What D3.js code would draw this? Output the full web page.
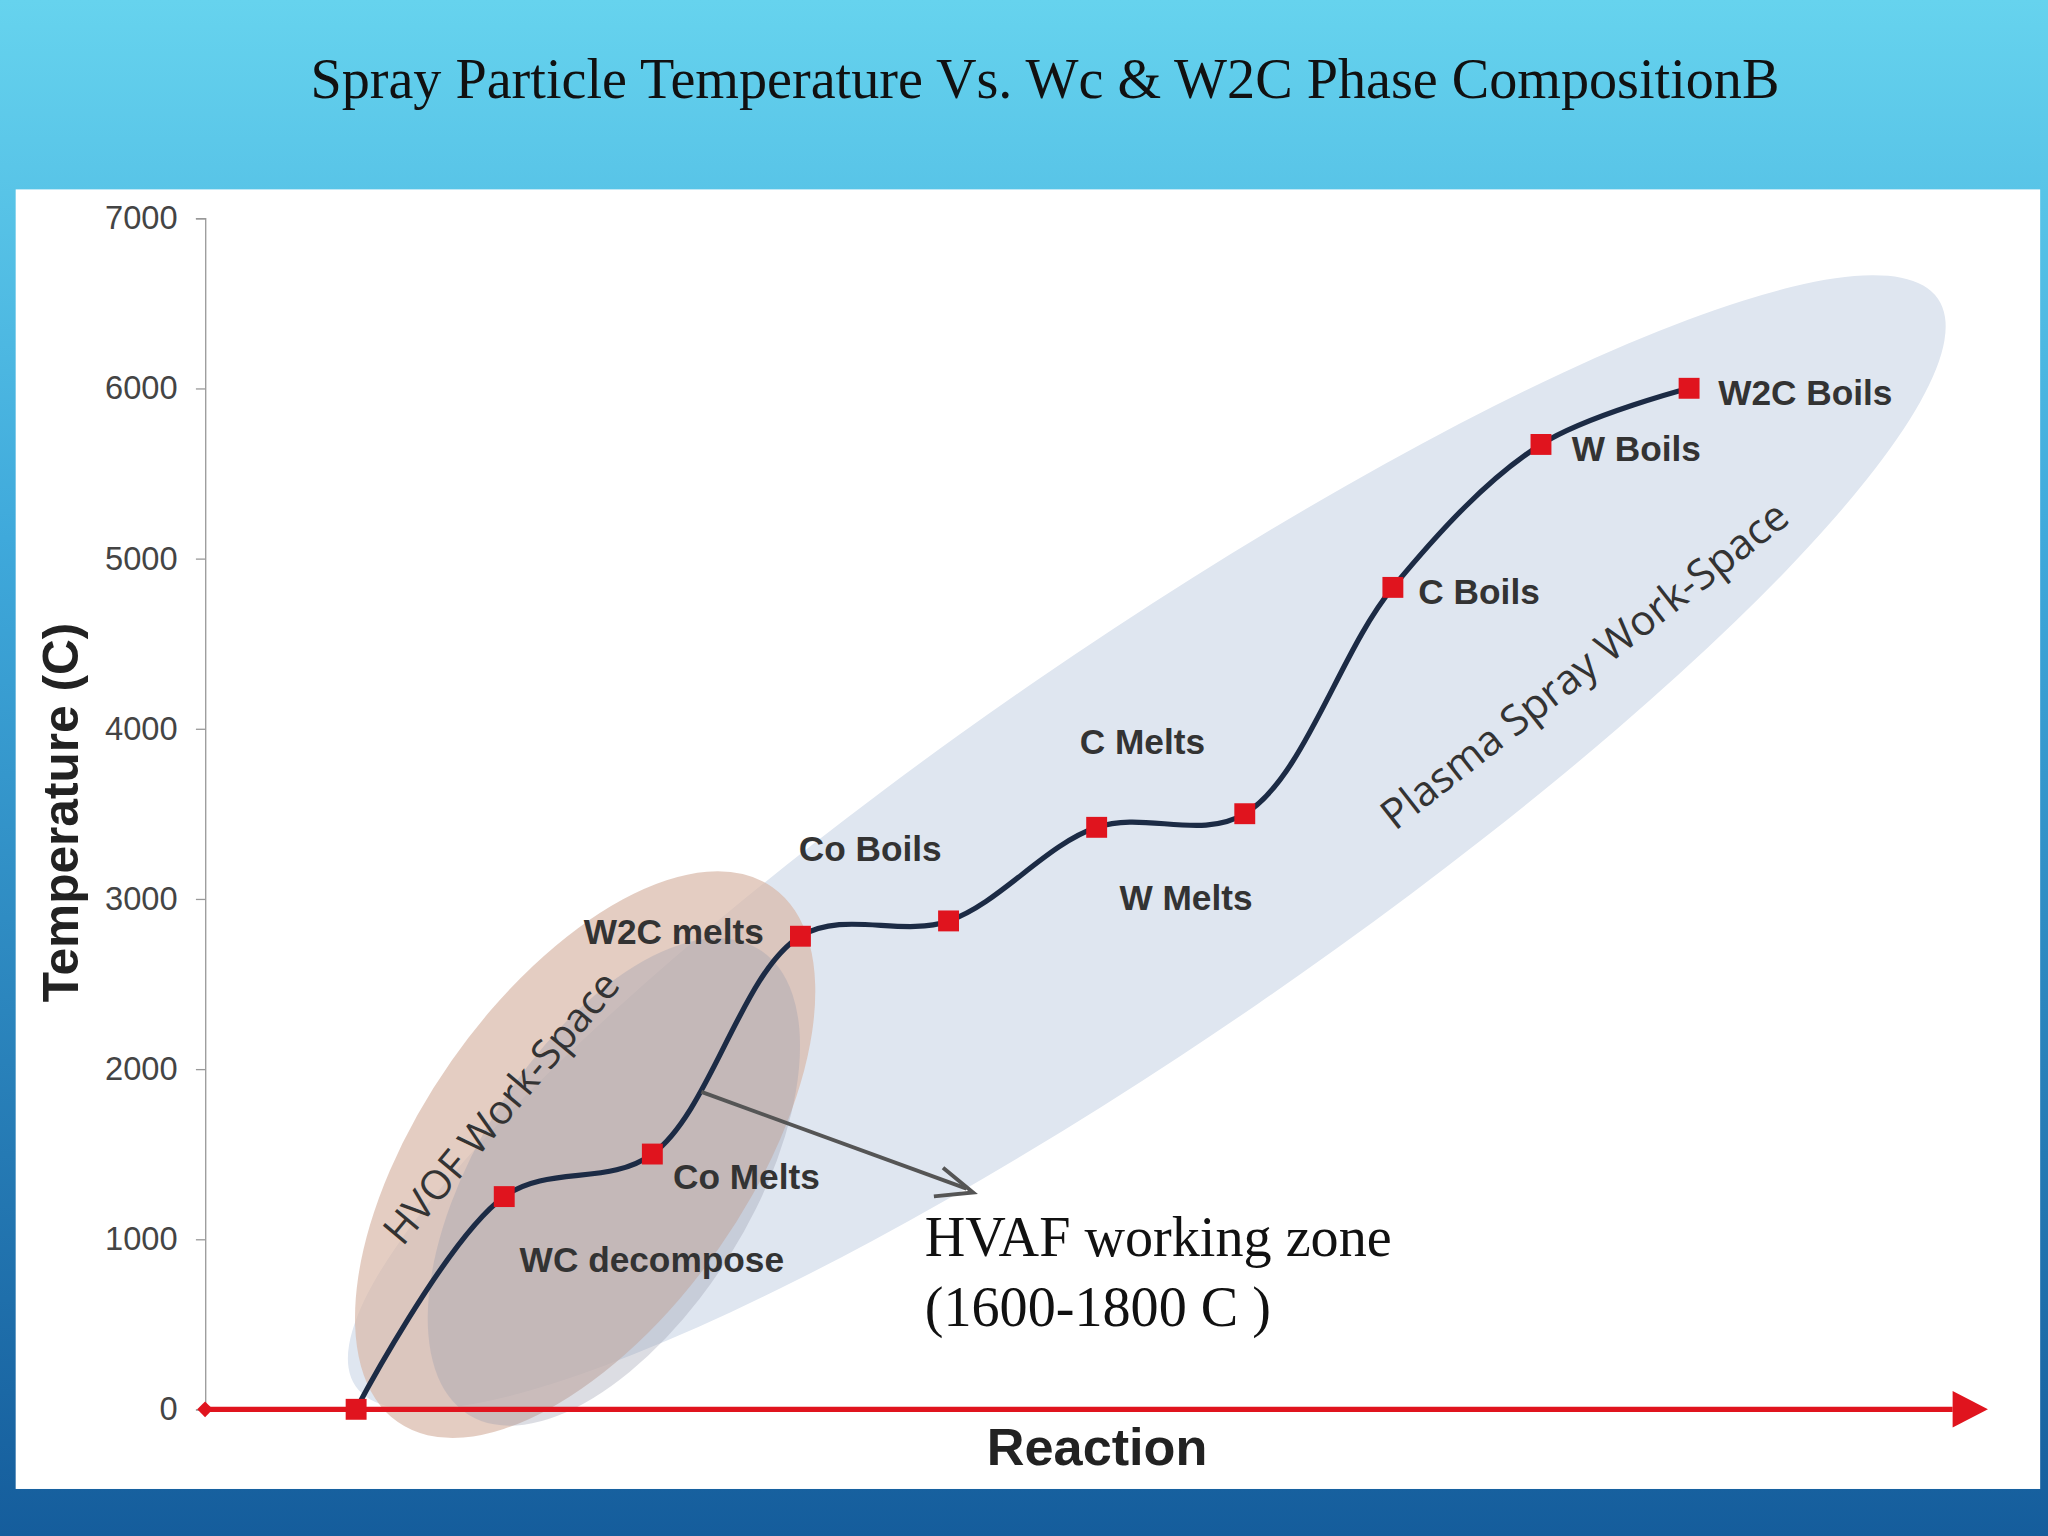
<!DOCTYPE html>
<html><head><meta charset="utf-8">
<script src="https://cdn.jsdelivr.net/npm/d3@7"></script>
<style>html,body{margin:0;padding:0;overflow:hidden;background:#1a6aa8}</style>
</head><body>
<script>
const labels = ["", "WC decompose", "Co Melts", "W2C melts", "Co Boils", "C Melts", "W Melts", "C Boils", "W Boils", "W2C Boils"];
const temps = [0, 1250, 1500, 2780, 2870, 3420, 3500, 4830, 5670, 6000];
const yTicks = [0, 1000, 2000, 3000, 4000, 5000, 6000, 7000];
// label offsets from each marker (px)
const labelOffsets = [[0,0],[113,48],[72,17],[-97,-4],[-60,-56],[35,-66],[-45,64],[66,3],[73,3],[89,3]];

const W = 1568, H = 1176;
const svg = d3.select("body").append("svg")
    .attr("width", 2048).attr("height", 1536)
    .attr("viewBox", `0 0 ${W} ${H}`);

const defs = svg.append("defs");
const bg = defs.append("linearGradient").attr("id", "bg").attr("x1", 0).attr("y1", 0).attr("x2", 0).attr("y2", 1);
bg.append("stop").attr("offset", "0").attr("stop-color", "#66d3ee");
bg.append("stop").attr("offset", "0.35").attr("stop-color", "#3fa9db");
bg.append("stop").attr("offset", "1").attr("stop-color", "#155d9c");
svg.append("rect").attr("width", W).attr("height", H).attr("fill", "url(#bg)");
svg.append("rect").attr("x", 12).attr("y", 145).attr("width", 1550).attr("height", 995)
    .attr("fill", "#fff");

svg.append("text").attr("x", 800).attr("y", 75).attr("text-anchor", "middle")
    .attr("font-family", "Liberation Serif, serif").attr("font-size", 43).attr("fill", "#111")
    .text("Spray Particle Temperature Vs. Wc & W2C Phase CompositionB");

const x = d3.scaleLinear().domain([-1.02, 11]).range([157, 1520]);
const y = d3.scaleLinear().domain([0, 7000]).range([1079, 167]);

// work-space ellipses
svg.append("ellipse").attr("cx", 878).attr("cy", 645).attr("rx", 735).attr("ry", 150)
    .attr("transform", "rotate(-34.5 878 645)").attr("fill", "#dfe6f0");
svg.append("ellipse").attr("cx", 448).attr("cy", 884).attr("rx", 250).attr("ry", 125)
    .attr("transform", "rotate(-55 448 884)").attr("fill", "#d9b8a8").attr("opacity", 0.7);
svg.append("ellipse").attr("cx", 470).attr("cy", 905).attr("rx", 210).attr("ry", 105)
    .attr("transform", "rotate(-58 470 905)").attr("fill", "#9a9fae").attr("opacity", 0.35);

// y axis
const yAxis = svg.append("g").attr("transform", `translate(157,0)`)
    .call(d3.axisLeft(y).tickValues(yTicks).tickSize(7).tickPadding(14).tickFormat(d3.format("d")));
yAxis.select(".domain").attr("stroke", "#999");
yAxis.selectAll(".tick line").attr("stroke", "#999");
yAxis.selectAll("text").attr("font-family", "Liberation Sans, sans-serif")
    .attr("font-size", 25).attr("fill", "#444");
svg.append("text").attr("transform", "translate(60,622) rotate(-90)").attr("text-anchor", "middle")
    .attr("font-family", "Liberation Sans, sans-serif").attr("font-weight", "bold").attr("font-size", 38)
    .attr("fill", "#222").text("Temperature (C)");

// x axis (red arrow)
svg.append("line").attr("x1", x(-1.02)).attr("x2", 1495).attr("y1", y(0)).attr("y2", y(0))
    .attr("stroke", "#e0141e").attr("stroke-width", 4);
svg.append("path").attr("d", `M1495,${y(0)-14}L1522,${y(0)}L1495,${y(0)+14}Z`).attr("fill", "#e0141e");
svg.append("path").attr("d", `M${x(-1.02)-6},${y(0)}l6,-6l6,6l-6,6Z`).attr("fill", "#e0141e");
svg.append("text").attr("x", 840).attr("y", 1122).attr("text-anchor", "middle")
    .attr("font-family", "Liberation Sans, sans-serif").attr("font-weight", "bold")
    .attr("font-size", 40).attr("fill", "#222").text("Reaction");

// curve
const line = d3.line().x((d, i) => x(i)).y(d => y(d)).curve(d3.curveCatmullRom.alpha(0.5));
svg.append("path").attr("d", line(temps)).attr("fill", "none")
    .attr("stroke", "#1c2b45").attr("stroke-width", 4);

svg.selectAll("rect.pt").data(temps).enter().append("rect").attr("class", "pt")
    .attr("x", (d, i) => x(i) - 8).attr("y", d => y(d) - 8).attr("width", 16).attr("height", 16)
    .attr("fill", "#e0141e");

svg.selectAll("text.lbl").data(labels).enter().append("text").attr("class", "lbl")
    .attr("x", (d, i) => x(i) + labelOffsets[i][0]).attr("y", (d, i) => y(temps[i]) + labelOffsets[i][1] + 10)
    .attr("text-anchor", "middle")
    .attr("font-family", "Liberation Sans, sans-serif").attr("font-weight", "bold")
    .attr("font-size", 27).attr("fill", "#333").text(d => d);

// rotated zone labels
svg.append("text").attr("transform", "translate(392,855) rotate(-50)").attr("text-anchor", "middle")
    .attr("font-family", "Open Sans, sans-serif").attr("font-size", 31).attr("fill", "#333").text("HVOF Work-Space");
svg.append("text").attr("transform", "translate(1220,518) rotate(-38)").attr("text-anchor", "middle")
    .attr("font-family", "Open Sans, sans-serif").attr("font-size", 32).attr("fill", "#333").text("Plasma Spray Work-Space");

// HVAF annotation
svg.append("line").attr("x1", 537).attr("y1", 836).attr("x2", 740).attr("y2", 910)
    .attr("stroke", "#555").attr("stroke-width", 3);
svg.append("path").attr("d", "M722,894L745,913L715,916").attr("fill", "none").attr("stroke", "#555").attr("stroke-width", 3);
const ann = svg.append("text").attr("font-family", "Liberation Serif, serif").attr("font-size", 43).attr("fill", "#111");
ann.append("tspan").attr("x", 708).attr("y", 962).text("HVAF working zone");
ann.append("tspan").attr("x", 708).attr("y", 1015).text("(1600-1800 C )");
</script>
</body></html>
